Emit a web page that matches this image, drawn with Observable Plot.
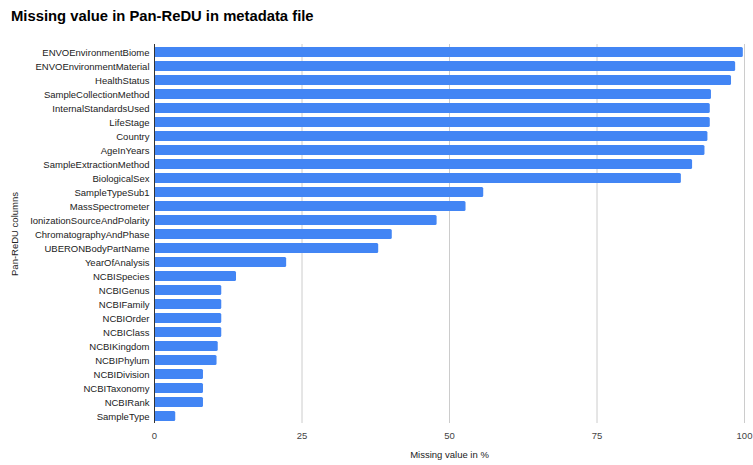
<!DOCTYPE html>
<html>
<head>
<meta charset="utf-8">
<script src="https://cdn.jsdelivr.net/npm/d3@7"></script>
<script src="https://cdn.jsdelivr.net/npm/@observablehq/plot@0.6"></script>
<style>
  html, body { margin: 0; padding: 0; background: #fff; }
  #wrap { width: 753px; height: 465px; position: relative; font-family: "Liberation Sans", Arial, sans-serif; }
  #title { position: absolute; left: 11px; top: 8px; font-size: 14.8px; font-weight: bold; color: #000; white-space: nowrap; }
  #chart { position: absolute; left: 0; top: 36px; }
</style>
</head>
<body>
<div id="wrap">
  <div id="title">Missing value in Pan-ReDU in metadata file</div>
  <div id="chart"></div>
</div>
<script>
const columns = [
  "ENVOEnvironmentBiome", "ENVOEnvironmentMaterial", "HealthStatus", "SampleCollectionMethod",
  "InternalStandardsUsed", "LifeStage", "Country", "AgeInYears", "SampleExtractionMethod",
  "BiologicalSex", "SampleTypeSub1", "MassSpectrometer", "IonizationSourceAndPolarity",
  "ChromatographyAndPhase", "UBERONBodyPartName", "YearOfAnalysis", "NCBISpecies", "NCBIGenus",
  "NCBIFamily", "NCBIOrder", "NCBIClass", "NCBIKingdom", "NCBIPhylum", "NCBIDivision",
  "NCBITaxonomy", "NCBIRank", "SampleType"
];
const missingPct = [
  99.8, 98.5, 97.8, 94.4,
  94.2, 94.2, 93.8, 93.3, 91.2,
  89.3, 55.8, 52.8, 47.9,
  40.3, 38.0, 22.4, 13.9, 11.4,
  11.4, 11.4, 11.4, 10.8, 10.6, 8.3,
  8.3, 8.3, 3.6
];
const xTicks = [0, 25, 50, 75, 100];
const xLabel = "Missing value in %";
const yLabel = "Pan-ReDU columns";

const data = columns.map((c, i) => ({ column: c, value: missingPct[i] }));

const chart = Plot.plot({
  width: 753,
  height: 429,
  marginTop: 8,
  marginBottom: 42,
  marginLeft: 154,
  marginRight: 9,
  style: { fontFamily: "'Liberation Sans', Arial, sans-serif", fontSize: "9.5px", color: "#222", background: "#fff" },
  x: { domain: [0, 100], ticks: xTicks },
  y: { domain: columns, paddingInner: 0.32, paddingOuter: 0.16 },
  marks: [
    Plot.ruleX(xTicks.filter(d => d !== 0), { stroke: "#cccccc", strokeWidth: 1 }),
    Plot.barX(data, { x: "value", y: "column", fill: "#4285f4", rx: 1.5 }),
    Plot.ruleX([0], { stroke: "#333333", strokeWidth: 1 }),
    Plot.axisX({ ticks: xTicks, tickSize: 0, tickPadding: 9, label: null, fill: "#444", fontSize: 9.5 }),
    Plot.axisY({ tickSize: 0, tickPadding: 5, label: yLabel, labelAnchor: "center", labelArrow: "none", labelOffset: 143, fill: "#222", fontSize: 9.5 }),
    Plot.text([xLabel], { frameAnchor: "bottom", dy: 34, fill: "#222", fontSize: 9.5 })
  ]
});
document.getElementById("chart").appendChild(chart);
</script>
</body>
</html>
